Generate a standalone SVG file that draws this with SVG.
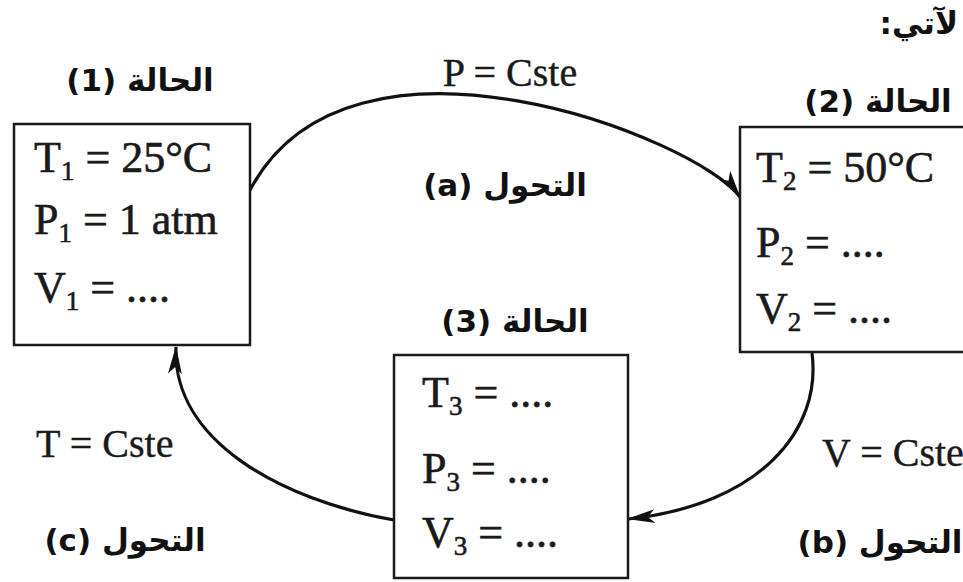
<svg xmlns="http://www.w3.org/2000/svg" width="963" height="582" viewBox="0 0 963 582">
<style>
.box{fill:#fff;stroke:#1a1a1a;stroke-width:2.5}
.m{font-family:"Liberation Serif",serif;font-size:44px;fill:#1a1a1a;stroke:#1a1a1a;stroke-width:0.6}
.sub{font-size:27px}
.lbl{font-family:"Liberation Serif",serif;font-size:40px;fill:#1a1a1a;stroke:#1a1a1a;stroke-width:0.4}
.ar{font-family:"DejaVu Sans",sans-serif;font-weight:bold;font-size:31px;fill:#111}
.c{fill:none;stroke:#111;stroke-width:3.2}
</style>
<defs>
<marker id="ah" viewBox="0 0 28 14" refX="27" refY="7" markerWidth="28" markerHeight="14" markerUnits="userSpaceOnUse" orient="auto">
<path d="M0,0 L28,7 L0,14 L7,7 Z" fill="#111"/>
</marker>
</defs>
<rect width="963" height="582" fill="#fff"/>
<text class="ar" x="958" y="34" direction="rtl" text-anchor="start" font-size="26">لآتي:</text>
<g id="connectors">
<path class="c" d="M250,190 C350,0 700,140 740,197" marker-end="url(#ah)"/>
<path class="c" d="M812,353 C822,430 760,505 628,519" marker-end="url(#ah)"/>
<path class="c" d="M394,520 C280,500 172,440 176,347" marker-end="url(#ah)"/>
</g>
<g id="labels">
<text class="lbl" x="510" y="86" text-anchor="middle">P = Cste</text>
<text class="ar" x="505" y="196" direction="rtl" text-anchor="middle">التحول (a)</text>
<text class="lbl" x="36" y="457">T = Cste</text>
<text class="lbl" x="822" y="466">V = Cste</text>
<text class="ar" x="125" y="551" direction="rtl" text-anchor="middle">التحول (c)</text>
<text class="ar" x="880" y="553" direction="rtl" text-anchor="middle">التحول (b)</text>
</g>
<g id="state1">
<text class="ar" x="140" y="91" direction="rtl" text-anchor="middle">الحالة (1)</text>
<rect class="box" x="14" y="124" width="236" height="221"/>
<text class="m" x="34" y="172">T<tspan class="sub" dy="8">1</tspan><tspan dy="-8"> = 25°C</tspan></text>
<text class="m" x="34" y="234">P<tspan class="sub" dy="8">1</tspan><tspan dy="-8"> = 1 atm</tspan></text>
<text class="m" x="34" y="302">V<tspan class="sub" dy="8">1</tspan><tspan dy="-8"> = ....</tspan></text>
</g>
<g id="state2">
<text class="ar" x="878" y="112" direction="rtl" text-anchor="middle">الحالة (2)</text>
<rect class="box" x="740" y="127" width="240" height="225"/>
<text class="m" x="756" y="182">T<tspan class="sub" dy="8">2</tspan><tspan dy="-8"> = 50°C</tspan></text>
<text class="m" x="756" y="257">P<tspan class="sub" dy="8">2</tspan><tspan dy="-8"> = ....</tspan></text>
<text class="m" x="756" y="323">V<tspan class="sub" dy="8">2</tspan><tspan dy="-8"> = ....</tspan></text>
</g>
<g id="state3">
<text class="ar" x="515" y="332" direction="rtl" text-anchor="middle">الحالة (3)</text>
<rect class="box" x="394" y="355" width="234" height="223"/>
<text class="m" x="422" y="407">T<tspan class="sub" dy="8">3</tspan><tspan dy="-8"> = ....</tspan></text>
<text class="m" x="422" y="483">P<tspan class="sub" dy="8">3</tspan><tspan dy="-8"> = ....</tspan></text>
<text class="m" x="422" y="547">V<tspan class="sub" dy="8">3</tspan><tspan dy="-8"> = ....</tspan></text>
</g>
</svg>
